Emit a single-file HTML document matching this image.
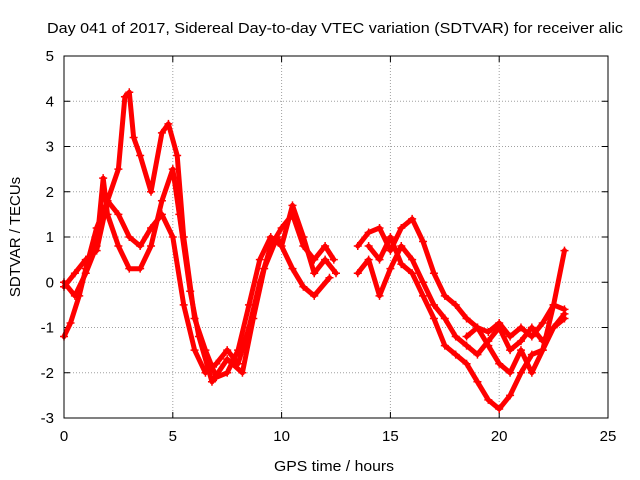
<!DOCTYPE html>
<html><head><meta charset="utf-8"><style>
body{margin:0;background:#fff;}
svg{display:block;font-family:"Liberation Sans",sans-serif;}
</style></head><body>
<svg id="chart" width="640" height="480" viewBox="0 0 640 480">
<rect width="640" height="480" fill="#fff"/>
<text x="47" y="33" font-size="15" textLength="576" lengthAdjust="spacingAndGlyphs">Day 041 of 2017, Sidereal Day-to-day VTEC variation (SDTVAR) for receiver alic</text>
<g id="grid"></g>
<g id="axes"></g>
<g id="series"></g>
<rect x="64" y="56" width="544" height="362" fill="none" stroke="#000" stroke-width="1"/>
<text x="334" y="471" font-size="15" text-anchor="middle" textLength="120" lengthAdjust="spacingAndGlyphs">GPS time / hours</text>
<text transform="translate(20,237) rotate(-90)" font-size="15" text-anchor="middle">SDTVAR / TECUs</text>
</svg>
<script>
const xTicks=[0,5,10,15,20,25];
const yTicks=[-3,-2,-1,0,1,2,3,4,5];
const traceA=[[0,-1.2],[0.3,-0.9],[0.7,-0.3],[1,0.3],[1.5,1.2],[2,1.8],[2.5,1.5],[3,1.0],[3.5,0.8],[4,1.2],[4.5,1.5],[5,1.0],[5.5,-0.5],[6,-1.5],[6.5,-2.0],[7,-1.8],[7.5,-1.5],[8,-1.8],[8.5,-1.0],[9,0],[9.5,0.8],[10,1.2],[10.5,1.5],[11,0.8],[11.5,0.5],[12,0.8],[12.4,0.5]];
const traceB=[[0,-0.1],[0.5,0.2],[1,0.5],[1.5,0.7],[2,1.8],[2.5,2.5],[2.8,4.1],[3.0,4.2],[3.2,3.2],[3.5,2.8],[4,2.0],[4.5,3.3],[4.8,3.5],[5.2,2.8],[5.5,1.0],[6,-0.8],[6.5,-1.5],[7,-2.1],[7.5,-2.0],[8,-1.5],[8.5,-0.5],[9,0.5],[9.5,1.0],[10,0.8],[10.5,1.7],[11,1.0],[11.5,0.2],[12,0.5],[12.5,0.2]];
const traceC=[[0,0],[0.5,-0.3],[1,0.2],[1.5,0.8],[1.8,2.3],[2,1.5],[2.5,0.8],[3,0.3],[3.5,0.3],[4,0.8],[4.5,1.8],[5,2.5],[5.3,1.5],[5.8,-0.2],[6.2,-1.2],[6.8,-2.2],[7.5,-1.7],[8.2,-2.0],[8.7,-0.8],[9.2,0.3],[9.8,1.0],[10.5,0.3],[11,-0.1],[11.5,-0.3],[12.2,0.1]];
const traceE=[[13.5,0.8],[14,1.1],[14.5,1.2],[15,0.7],[15.5,1.2],[16,1.4],[16.5,0.9],[17,0.2],[17.5,-0.3],[18,-0.5],[18.5,-0.8],[19,-1.0],[19.5,-1.1],[20,-0.9],[20.5,-1.2],[21,-1.0],[21.5,-1.2],[22,-0.9],[22.5,-0.5],[23,-0.6]];
const traceF=[[13.5,0.2],[14,0.5],[14.5,-0.3],[15,0.3],[15.5,0.8],[16,0.5],[16.5,0],[17,-0.5],[17.5,-0.8],[18,-1.2],[18.5,-1.4],[19,-1.6],[19.5,-1.3],[20,-1.0],[20.5,-1.5],[21,-1.3],[21.5,-1.0],[22,-1.3],[22.5,-1.0],[23,-0.7]];
const traceG=[[14,0.8],[14.5,0.5],[15,1.0],[15.5,0.4],[16,0.2],[16.5,-0.3],[17,-0.8],[17.5,-1.4],[18,-1.6],[18.5,-1.8],[19,-2.2],[19.5,-2.6],[20,-2.8],[20.5,-2.5],[21,-2.0],[21.5,-1.6],[22,-1.5],[22.5,-0.5],[23,0.7]];
const traceH=[[18.5,-1.2],[19,-1.0],[19.5,-1.4],[20,-1.8],[20.5,-2.0],[21,-1.5],[21.5,-2.0],[22,-1.5],[22.5,-1.0],[23,-0.8]];
const traces=[traceA,traceB,traceC,traceE,traceF,traceG,traceH];

const X0=64,X1=608,Y0=418,Y1=56;
function sx(v){return X0+(v-0)/(25-0)*(X1-X0);}
function sy(v){return Y0-(v+3)/(5+3)*(Y0-Y1);}
const NS="http://www.w3.org/2000/svg";
function mk(tag,attrs,parent){const e=document.createElementNS(NS,tag);for(const k in attrs)e.setAttribute(k,attrs[k]);parent.appendChild(e);return e;}
const grid=document.getElementById('grid'),axes=document.getElementById('axes'),ser=document.getElementById('series');
xTicks.forEach(t=>{
  const x=sx(t);
  if(t>0&&t<25){const g=mk('line',{x1:x,x2:x,y1:Y1,y2:Y0,stroke:'#a0a0a0','stroke-dasharray':'1,2'},grid);
  
  }
  mk('line',{x1:x,x2:x,y1:Y0,y2:Y0-6,stroke:'#000'},axes);
  mk('line',{x1:x,x2:x,y1:Y1,y2:Y1+6,stroke:'#000'},axes);
  const l=mk('text',{x:x,y:Y0+23,'font-size':15,'text-anchor':'middle'},axes);
  l.textContent=t;
  
  
});
yTicks.forEach(t=>{
  const y=sy(t);
  if(t>-3&&t<5){const g=mk('line',{x1:X0,x2:X1,y1:y,y2:y,stroke:'#a0a0a0','stroke-dasharray':'1,2'},grid);
  
  }
  mk('line',{x1:X0,x2:X0+6,y1:y,y2:y,stroke:'#000'},axes);
  mk('line',{x1:X1,x2:X1-6,y1:y,y2:y,stroke:'#000'},axes);
  const l=mk('text',{x:X0-10,y:y+5,'font-size':15,'text-anchor':'end'},axes);
  l.textContent=t;
  
  
});
traces.forEach(tr=>{
  const pts=tr.map(p=>sx(p[0]).toFixed(1)+','+sy(p[1]).toFixed(1)).join(' ');
  const pl=mk('polyline',{points:pts,fill:'none',stroke:'#ff0000','stroke-width':5,'stroke-linejoin':'round','stroke-linecap':'round'},ser);
  
  
  tr.forEach(p=>{
    const x=sx(p[0]),y=sy(p[1]);
    const m=mk('path',{d:`M${x-4},${y}H${x+4}M${x},${y-4}V${y+4}`,stroke:'#ff0000','stroke-width':1.5},ser);
    
    
  });
});
</script>
</body></html>
